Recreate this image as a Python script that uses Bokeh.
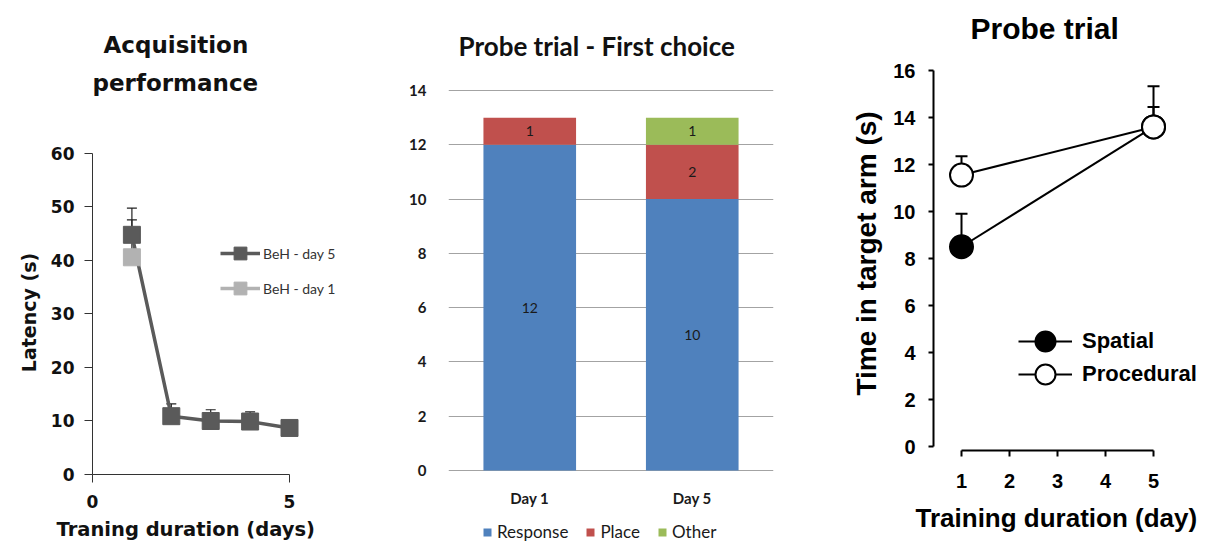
from bokeh.plotting import figure
from bokeh.layouts import row
from bokeh.models import (Range1d, FactorRange, Whisker, TeeHead, Legend, LegendItem,
                          LabelSet, Title, ColumnDataSource, FixedTicker)
from bokeh.core.properties import value
from bokeh.embed import file_html
from bokeh.resources import INLINE

# ---------------- data ----------------
# Panel 1: Acquisition performance
acq_days = [1, 2, 3, 4, 5]
acq_day5_mean = [44.8, 10.9, 10.0, 9.9, 8.7]
acq_day5_err = [5.0, 2.3, 2.1, 1.8, 0.5]
acq_day1_days = [1]
acq_day1_mean = [40.6]
acq_day1_err = [7.0]

# Panel 2: Probe trial - first choice
probe_days = ["Day 1", "Day 5"]
choice_response = [12, 10]
choice_place = [1, 2]
choice_other = [0, 1]

# Panel 3: Probe trial time in target arm
probe_x = [1, 5]
spatial_mean = [8.5, 13.6]
spatial_err = [1.4, 0.85]
procedural_mean = [11.55, 13.6]
procedural_err = [0.8, 1.73]

DARK = "#5a5a5a"
LIGHT = "#b2b2b2"

def legend_box(**kw):
    base = dict(padding=0, margin=0, border_line_color=None, background_fill_alpha=0)
    base.update(kw)
    return Legend(**base)

# ---------------- panel 1 ----------------
p1 = figure(width=400, height=546, output_backend="svg", toolbar_location=None,
            x_range=Range1d(0, 6.294), y_range=Range1d(0, 60.56), frame_align=False,
            min_border_left=92, min_border_right=60, min_border_top=150, min_border_bottom=72)
p1.outline_line_color = None
p1.grid.grid_line_color = None

s5 = ColumnDataSource(dict(x=acq_days, y=acq_day5_mean,
                           top=[m + e for m, e in zip(acq_day5_mean, acq_day5_err)]))
s1 = ColumnDataSource(dict(x=acq_day1_days, y=acq_day1_mean,
                           top=[m + e for m, e in zip(acq_day1_mean, acq_day1_err)]))
for src in (s5, s1):
    p1.add_layout(Whisker(base="x", lower="y", upper="top", source=src, dimension="height",
                          line_color="#222222", line_width=1.2,
                          upper_head=TeeHead(size=10, line_color="#222222", line_width=1.2),
                          lower_head=None))
l5 = p1.line("x", "y", source=s5, line_color=DARK, line_width=3.5)
m5 = p1.scatter("x", "y", source=s5, marker="square", size=17, fill_color=DARK, line_color=DARK)
l1 = p1.line("x", "y", source=s1, line_color=LIGHT, line_width=3.5)
m1 = p1.scatter("x", "y", source=s1, marker="square", size=17, fill_color=LIGHT, line_color=LIGHT)

p1.add_layout(legend_box(items=[LegendItem(label="BeH - day 5", renderers=[l5, m5]),
                                LegendItem(label="BeH - day 1", renderers=[l1, m1])],
                         location=(128, 170), glyph_width=40, glyph_height=32, spacing=3,
                         label_standoff=3, label_text_font="Lato",
                         label_text_font_size="14px", label_text_color="#333333"))

for ax in (p1.xaxis[0], p1.yaxis[0]):
    ax.axis_line_color = "#333333"
    ax.major_tick_line_color = "#333333"
    ax.major_tick_out = 8
    ax.major_tick_in = 0
    ax.minor_tick_out = 0
    ax.minor_tick_in = 0
    ax.major_label_text_font = "DejaVu Sans"
    ax.major_label_text_font_style = "bold"
    ax.major_label_text_font_size = "17px"
    ax.major_label_text_color = "#111111"
    ax.axis_label_text_font = "DejaVu Sans"
    ax.axis_label_text_font_style = "bold"
    ax.axis_label_text_color = "#111111"
p1.xaxis.ticker = FixedTicker(ticks=[0, 5])
p1.xaxis.bounds = (0, 5)
p1.xaxis.major_label_standoff = 12
p1.yaxis.ticker = FixedTicker(ticks=[0, 10, 20, 30, 40, 50, 60])
p1.yaxis.bounds = (0, 60)
p1.yaxis.major_label_standoff = 10
p1.yaxis.axis_label = "Latency (s)"
p1.yaxis.axis_label_text_font_size = "19px"
p1.yaxis.axis_label_standoff = 8

p1.add_layout(Title(text="Traning duration (days)", align="left", offset=-36,
                    text_font="DejaVu Sans", text_font_style="bold", text_font_size="19.5px",
                    text_color="#111111"), "below")
p1.add_layout(Title(text=" ", align="left", text_font_size="1px", standoff=47), "above")
p1.add_layout(Title(text="performance", align="left", offset=0,
                    text_font="DejaVu Sans", text_font_style="bold", text_font_size="23px",
                    text_color="#111111"), "above")
p1.add_layout(Title(text="Acquisition", align="left", offset=11,
                    text_font="DejaVu Sans", text_font_style="bold", text_font_size="23px",
                    text_color="#111111"), "above")

# ---------------- panel 2 ----------------
p2 = figure(width=440, height=546, output_backend="svg", toolbar_location=None,
            x_range=FactorRange(*probe_days, range_padding=0), y_range=Range1d(-2.8, 14.185),
            x_axis_type=None, frame_align=False,
            min_border_left=48, min_border_right=67, min_border_top=85, min_border_bottom=0)
p2.outline_line_color = None
p2.x_range.factor_padding = 0

cdata = dict(day=probe_days, Response=choice_response, Place=choice_place, Other=choice_other)
bars = p2.vbar_stack(["Response", "Place", "Other"], x="day", width=0.57, source=ColumnDataSource(cdata),
                     color=["#4F81BD", "#C0504D", "#9BBB59"], line_color=None)

seg_x, seg_y, seg_t = [], [], []
for i, d in enumerate(probe_days):
    base = 0
    for vals in (choice_response, choice_place, choice_other):
        v = vals[i]
        if v:
            seg_x.append(d)
            seg_y.append(base + v / 2)
            seg_t.append(str(v))
        base += v
p2.add_layout(LabelSet(x="x", y="y", text="t", source=ColumnDataSource(dict(x=seg_x, y=seg_y, t=seg_t)),
                       text_align="center", text_baseline="middle", text_font=value("Lato"),
                       text_font_size="14px", text_color="#1a1a1a"))
# category labels under the baseline
p2.add_layout(LabelSet(x="x", y="y", text="x",
                       source=ColumnDataSource(dict(x=probe_days, y=[0] * len(probe_days))),
                       y_offset=-27, text_align="center", text_baseline="middle",
                       text_font=value("Lato"), text_font_style="bold",
                       text_font_size="15px", text_color="#1a1a1a"))

p2.ygrid.ticker = FixedTicker(ticks=[0, 2, 4, 6, 8, 10, 12, 14])
p2.ygrid.grid_line_color = "#a3a3a3"
p2.xgrid.grid_line_color = None
p2.yaxis.ticker = FixedTicker(ticks=[0, 2, 4, 6, 8, 10, 12, 14])
p2.yaxis.axis_line_color = None
p2.yaxis.major_tick_line_color = None
p2.yaxis.minor_tick_line_color = None
p2.yaxis.major_label_standoff = 16
p2.yaxis.major_label_text_font = "Lato"
p2.yaxis.major_label_text_font_style = "bold"
p2.yaxis.major_label_text_color = "#1a1a1a"
p2.yaxis.major_label_text_font_size = "15px"

p2.add_layout(legend_box(items=[LegendItem(label=n, renderers=[r])
                                for n, r in zip(["Response", "Place", "Other"], bars)],
                         orientation="horizontal", location=(34, 4), glyph_width=10, glyph_height=10,
                         label_height=20, label_standoff=5, spacing=17, label_text_font="Lato",
                         label_text_font_size="17px", label_text_color="#1a1a1a"))
p2.add_layout(Title(text="Probe trial - First choice", align="left", offset=10,
                    vertical_align="middle", standoff=45,
                    text_font="Lato", text_font_style="bold", text_font_size="26px",
                    text_color="#111111"), "above")

# ---------------- panel 3 ----------------
p3 = figure(width=365, height=546, output_backend="svg", toolbar_location=None,
            x_range=Range1d(0.4167, 6.083), y_range=Range1d(-0.17, 16.596), frame_align=False,
            min_border_left=93, min_border_right=0, min_border_top=56, min_border_bottom=96)
p3.outline_line_color = None
p3.grid.grid_line_color = None

sp = ColumnDataSource(dict(x=probe_x, y=spatial_mean, top=[m + e for m, e in zip(spatial_mean, spatial_err)]))
pr = ColumnDataSource(dict(x=probe_x, y=procedural_mean, top=[m + e for m, e in zip(procedural_mean, procedural_err)]))
for src in (sp, pr):
    p3.add_layout(Whisker(base="x", lower="y", upper="top", source=src, dimension="height",
                          line_color="black", line_width=2,
                          upper_head=TeeHead(size=12, line_color="black", line_width=2),
                          lower_head=None))
ls = p3.line("x", "y", source=sp, line_color="black", line_width=2)
ms = p3.scatter("x", "y", source=sp, marker="circle", size=23, fill_color="black", line_color="black", line_width=2)
lp = p3.line("x", "y", source=pr, line_color="black", line_width=2)
mp = p3.scatter("x", "y", source=pr, marker="circle", size=23, fill_color="white", line_color="black", line_width=2)

for lab, rends, ypos in (("Spatial", [ls, ms], 84), ("Procedural", [lp, mp], 51)):
    p3.add_layout(legend_box(items=[LegendItem(label=lab, renderers=rends)],
                             location=(85, ypos), glyph_width=54, glyph_height=50,
                             label_standoff=10, label_text_font="Liberation Sans",
                             label_text_font_style="bold", label_text_font_size="22px",
                             label_text_color="black"))

for ax in (p3.xaxis[0], p3.yaxis[0]):
    ax.axis_line_color = "black"
    ax.axis_line_width = 2
    ax.major_tick_line_color = "black"
    ax.major_tick_line_width = 2
    ax.major_tick_in = 0
    ax.minor_tick_out = 0
    ax.minor_tick_in = 0
    ax.major_label_text_font = "Liberation Sans"
    ax.major_label_text_font_style = "bold"
    ax.major_label_text_font_size = "20px"
    ax.major_label_text_color = "black"
    ax.axis_label_text_font = "Liberation Sans"
    ax.axis_label_text_font_style = "bold"
    ax.axis_label_text_color = "black"
p3.xaxis.ticker = FixedTicker(ticks=[1, 2, 3, 4, 5])
p3.xaxis.bounds = (1, 5)
p3.xaxis.major_tick_out = 6
p3.xaxis.major_label_standoff = 17
p3.yaxis.ticker = FixedTicker(ticks=[0, 2, 4, 6, 8, 10, 12, 14, 16])
p3.yaxis.bounds = (0, 16)
p3.yaxis.major_tick_out = 5
p3.yaxis.major_label_standoff = 13
p3.yaxis.axis_label = "Time in target arm (s)"
p3.yaxis.axis_label_text_font_size = "28px"
p3.yaxis.axis_label_standoff = 8
p3.add_layout(Title(text="Training duration (day)", align="left", offset=-18, standoff=21,
                    text_font="Liberation Sans", text_font_style="bold", text_font_size="26px",
                    text_color="black"), "below")
p3.add_layout(Title(text="Probe trial", align="left", offset=37, vertical_align="middle", standoff=21,
                    text_font="Liberation Sans", text_font_style="bold", text_font_size="30px",
                    text_color="black"), "above")

layout = row(p1, p2, p3, spacing=0)
open("out.html", "w").write(file_html(layout, INLINE))
